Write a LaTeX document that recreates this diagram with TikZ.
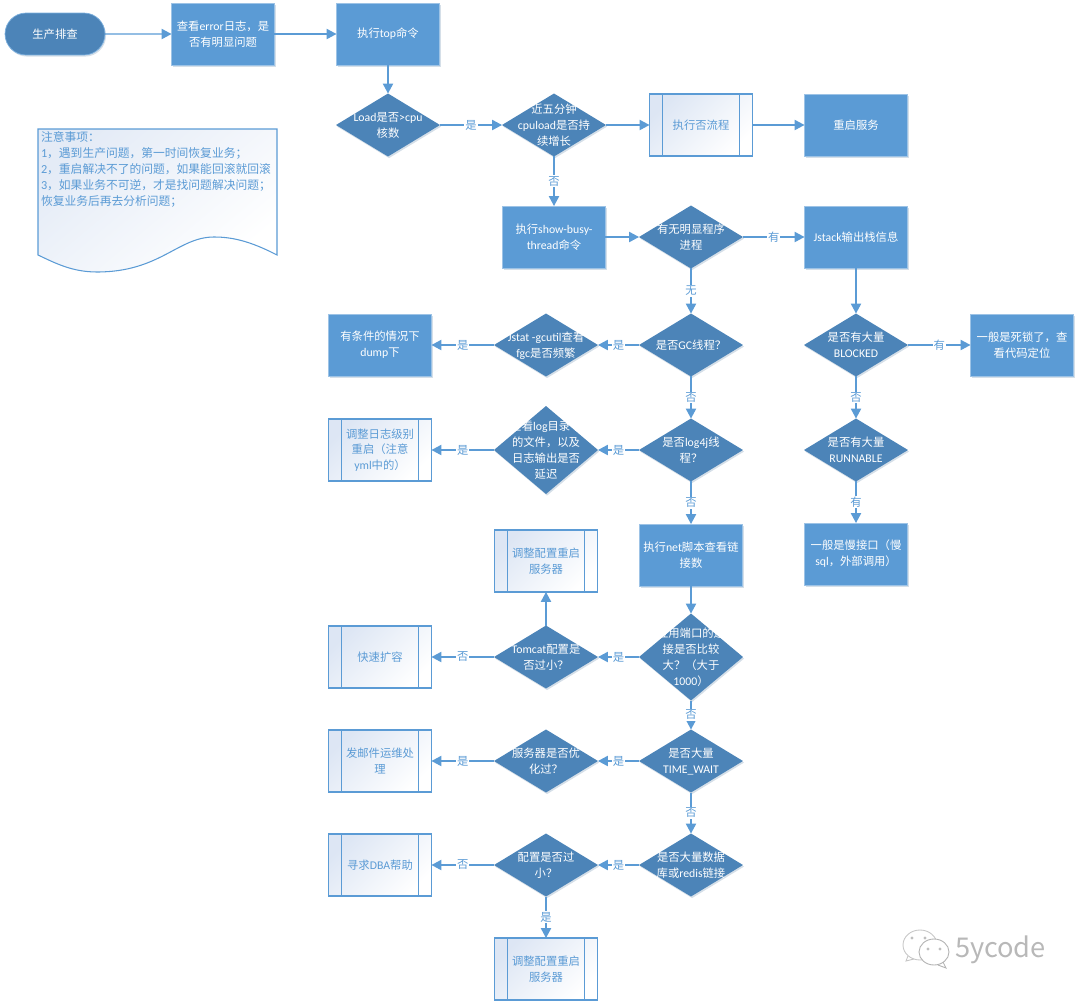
\documentclass[tikz,border=0pt]{standalone}
\usepackage{fontspec}
\setmainfont{Carlito}[Scale=1.04]
\newfontfamily\cjkfont{Noto Sans CJK SC}
\usetikzlibrary{arrows.meta,shapes.geometric,shapes.misc,shadows}
\definecolor{boxblue}{HTML}{5B9BD5}
\definecolor{darkblue}{HTML}{4C84B8}
\definecolor{paleblue}{HTML}{DDE6F4}
% Chinese characters go to the CJK family, the rest stays in the main font
\XeTeXinterchartokenstate=1
\newXeTeXintercharclass\cjkclass
\newcount\cjkcount
\cjkcount="3000 \loop \XeTeXcharclass\cjkcount=\cjkclass \advance\cjkcount by 1 \ifnum\cjkcount<"3040 \repeat
\cjkcount="4E00 \loop \XeTeXcharclass\cjkcount=\cjkclass \advance\cjkcount by 1 \ifnum\cjkcount<"A000 \repeat
\cjkcount="FF00 \loop \XeTeXcharclass\cjkcount=\cjkclass \advance\cjkcount by 1 \ifnum\cjkcount<"FFF0 \repeat
\XeTeXinterchartoks 0 \cjkclass = {\cjkfont}
\XeTeXinterchartoks 4095 \cjkclass = {\cjkfont}
\XeTeXinterchartoks \cjkclass 0 = {\rmfamily}
\XeTeXinterchartoks \cjkclass 4095 = {\rmfamily}
\newcommand{\ztext}[1]{\smash{\makebox[0pt]{\raisebox{-2.2pt}{\begin{tabular}[c]{@{}c@{}}#1\end{tabular}}}}}
\tikzset{
    softshadow/.style={drop shadow={shadow xshift=0.6pt,shadow yshift=-0.9pt,opacity=.22,fill=boxblue!70!black}},
    basefont/.style={font=\fontsize{6.45}{9}\selectfont,align=center,inner sep=0pt,outer sep=0pt},
    terminal/.style={basefont,rounded rectangle,draw=boxblue!80,fill=darkblue,text=white,minimum width=2cm,minimum height=0.84cm,softshadow},
    stepbox/.style={basefont,draw=boxblue!60,fill=boxblue,text=white,minimum width=2.06cm,minimum height=1.24cm,softshadow},
    choice/.style={basefont,diamond,fill=darkblue,text=white,minimum width=2.08cm,minimum height=1.26cm,softshadow},
    subproc/.style={basefont,draw=boxblue,line width=0.6pt,top color=paleblue,middle color=white,bottom color=white,shading angle=45,text=boxblue,minimum width=2.06cm,minimum height=1.24cm,
        path picture={
            \draw[boxblue,line width=0.6pt] ([xshift=0.26cm]path picture bounding box.north west) -- ([xshift=0.26cm]path picture bounding box.south west);
            \draw[boxblue,line width=0.6pt] ([xshift=-0.26cm]path picture bounding box.north east) -- ([xshift=-0.26cm]path picture bounding box.south east);
        }},
    flow/.style={draw=boxblue,line width=0.75pt,-{Triangle[length=5.6pt,width=5.8pt]}},
    flowlabel/.style={basefont,fill=white,text=boxblue,inner sep=0.5pt},
}
\begin{document}
\begin{tikzpicture}[x=0.02cm,y=-0.02cm]
    \useasboundingbox (0,0) rectangle (1080,1001);
    % top row
    \node[terminal, name=start] at (55, 34) {生产排查};
    \node[stepbox, name=check_error] at (223, 34) {查看error日志，是\\否有明显问题};
    \node[stepbox, name=run_top] at (388, 34) {执行top命令};
    \node[choice, name=load_cpu] at (388, 125) {\ztext{Load是否>cpu\\核数}};
    \node[choice, name=cpuload] at (554, 125) {\ztext{近五分钟\\cpuload是否持\\续增长}};
    \node[subproc, name=no_flow] at (701, 125) {执行否流程};
    \node[stepbox, name=restart] at (856, 125) {重启服务};
    % note
    \draw[name=note_shape, draw=boxblue, line width=0.6pt, top color=paleblue!80, middle color=white, bottom color=white, shading angle=40]
        (38,129) -- (277,129) -- (277,255)
        .. controls (250,241) and (232,237) .. (214,237)
        .. controls (178,237) and (160,272) .. (97,272)
        .. controls (72,272) and (55,263) .. (38,255) -- cycle;
    \node[basefont, name=note, anchor=north west, align=left, text=boxblue, font=\fontsize{6.7}{9}\selectfont] at (41,132)
        {注意事项：\\1，遇到生产问题，第一时间恢复业务；\\2，重启解决不了的问题，如果能回滚就回滚\\3，如果业务不可逆，才是找问题解决问题；\\恢复业务后再去分析问题；};
    % right branch
    \node[stepbox, name=show_busy] at (554, 237) {执行show-busy-\\thread命令};
    \node[choice, name=has_proc] at (691, 237) {\ztext{有无明显程序\\进程}};
    \node[stepbox, name=jstack] at (856, 237) {Jstack输出栈信息};
    \node[choice, name=blocked] at (856, 345) {\ztext{是否有大量\\BLOCKED}};
    \node[stepbox, name=deadlock] at (1022, 345) {一般是死锁了，查\\看代码定位};
    \node[choice, name=runnable] at (856, 450) {\ztext{是否有大量\\RUNNABLE}};
    \node[stepbox, name=slow_api] at (856, 554) {一般是慢接口（慢\\sql，外部调用）};
    % middle column
    \node[choice, name=is_gc] at (691, 345) {\ztext{是否GC线程？}};
    \node[choice, name=jstat] at (546, 345) {\ztext{Jstat -gcutil查看\\fgc是否频繁}};
    \node[stepbox, name=dump] at (380, 345) {有条件的情况下\\dump下};
    \node[choice, name=is_log4j] at (691, 450) {\ztext{是否log4j线\\程？}};
    \node[choice, minimum height=1.76cm, name=log_dir] at (546, 450) {\ztext{查看log目录下\\的文件，以及\\日志输出是否\\延迟}};
    \node[subproc, name=adjust_log] at (380, 450) {调整日志级别\\重启（注意\\yml中的）};
    \node[stepbox, name=run_net] at (691, 555) {执行net脚本查看链\\接数};
    \node[choice, minimum height=1.74cm, name=port_conn] at (691, 657) {\ztext{应用端口的连\\接是否比较\\大？（大于\\1000）}};
    \node[choice, name=tomcat] at (546, 657) {\ztext{Tomcat配置是\\否过小？}};
    \node[subproc, name=adjust_tomcat] at (546, 561) {调整配置重启\\服务器};
    \node[subproc, name=expand] at (380, 657) {快速扩容};
    \node[choice, name=time_wait] at (691, 761) {\ztext{是否大量\\TIME\_WAIT}};
    \node[choice, name=optimized] at (546, 761) {\ztext{服务器是否优\\化过？}};
    \node[subproc, name=mail_ops] at (380, 761) {发邮件运维处\\理};
    \node[choice, name=db_conn] at (691, 865) {\ztext{是否大量数据\\库或redis链接}};
    \node[choice, name=config_small] at (546, 865) {\ztext{配置是否过\\小？}};
    \node[subproc, name=ask_dba] at (380, 865) {寻求DBA帮助};
    \node[subproc, name=adjust_config] at (546, 969) {调整配置重启\\服务器};
    % connectors
    \draw[flow] (start) -- (check_error);
    \draw[flow] (check_error) -- (run_top);
    \draw[flow] (run_top) -- (load_cpu);
    \draw[flow] (load_cpu) -- node[flowlabel] {是} (cpuload);
    \draw[flow] (cpuload) -- (no_flow);
    \draw[flow] (no_flow) -- (restart);
    \draw[flow] (cpuload) -- node[flowlabel] {否} (show_busy);
    \draw[flow] (show_busy) -- (has_proc);
    \draw[flow] (has_proc) -- node[flowlabel] {有} (jstack);
    \draw[flow] (jstack) -- (blocked);
    \draw[flow] (blocked) -- node[flowlabel] {有} (deadlock);
    \draw[flow] (blocked) -- node[flowlabel] {否} (runnable);
    \draw[flow] (runnable) -- node[flowlabel] {有} (slow_api);
    \draw[flow] (has_proc) -- node[flowlabel] {无} (is_gc);
    \draw[flow] (is_gc) -- node[flowlabel] {是} (jstat);
    \draw[flow] (jstat) -- node[flowlabel] {是} (dump);
    \draw[flow] (is_gc) -- node[flowlabel] {否} (is_log4j);
    \draw[flow] (is_log4j) -- node[flowlabel] {是} (log_dir);
    \draw[flow] (log_dir) -- node[flowlabel] {是} (adjust_log);
    \draw[flow] (is_log4j) -- node[flowlabel] {否} (run_net);
    \draw[flow] (run_net) -- (port_conn);
    \draw[flow] (port_conn) -- node[flowlabel] {是} (tomcat);
    \draw[flow] (tomcat) -- (adjust_tomcat);
    \draw[flow] (tomcat) -- node[flowlabel] {否} (expand);
    \draw[flow] (port_conn) -- node[flowlabel] {否} (time_wait);
    \draw[flow] (time_wait) -- node[flowlabel] {是} (optimized);
    \draw[flow] (optimized) -- node[flowlabel] {是} (mail_ops);
    \draw[flow] (time_wait) -- node[flowlabel] {否} (db_conn);
    \draw[flow] (db_conn) -- node[flowlabel] {是} (config_small);
    \draw[flow] (config_small) -- node[flowlabel] {否} (ask_dba);
    \draw[flow] (config_small) -- node[flowlabel] {是} (adjust_config);
    % watermark
    \draw[black!22, fill=white, line width=0.5pt] (920,945) ellipse (17 and 15);
    \draw[black!22, line width=0.5pt] (908,956) -- (906,961) -- (914,959);
    \draw[black!30, fill=white, line width=0.5pt] (934,952) ellipse (15 and 13);
    \draw[black!30, line width=0.5pt] (943,962) -- (946,968) -- (938,965);
    \foreach \dx/\dy in {912/938,925/938,928/949,940/949}
        \fill[black!25] (\dx,\dy) circle (1.6);
    \node[basefont, name=watermark, anchor=west, text=black!28, font=\cjkfont\fontsize{15.5}{17}\selectfont] at (955,950) {5ycode};
\end{tikzpicture}
\end{document}
